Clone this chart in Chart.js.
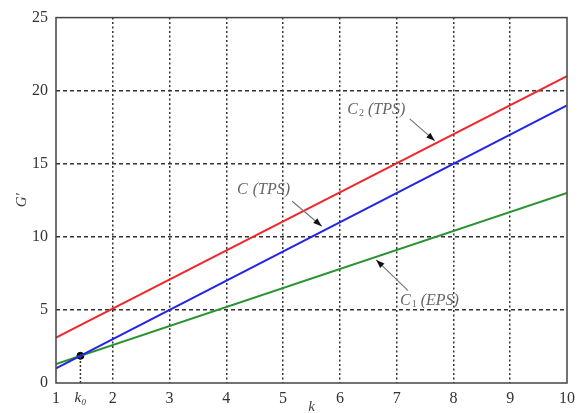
<!DOCTYPE html>
<html>
<head>
<meta charset="utf-8">
<script src="https://cdn.jsdelivr.net/npm/chart.js@4/dist/chart.umd.min.js"></script>
<style>
  html, body { margin: 0; padding: 0; background: #fff; }
  #wrap { width: 582px; height: 413px; }
</style>
</head>
<body>
<div id="wrap"><canvas id="chart" width="582" height="413"></canvas></div>
<script>
// data
const kValues = [1, 10];
const c2Values = [3.1, 21];
const cValues = [1.0, 19];
const c1Values = [1.3, 13];
const k0 = 1.43;
const g0 = 1.86;
const xTicks = [1, k0, 2, 3, 4, 5, 6, 7, 8, 9, 10];
const yTicks = [0, 5, 10, 15, 20, 25];

// curve labels: [text, subscript, rest, textX, textY, arrowFromX, arrowFromY, arrowToX, arrowToY]
const curveLabels = [
  ["C", "2", " (TPS)", 6.13, 18.7, 7.23, 18.07, 7.67, 16.58],
  ["C", "", " (TPS)", 4.19, 13.25, 5.16, 12.43, 5.68, 10.73],
  ["C", "1", " (EPS)", 7.06, 5.64, 7.20, 6.32, 6.64, 8.42]
];

const serif = "'Liberation Serif', 'DejaVu Serif', serif";

const toPts = (xs, ys) => xs.map((x, i) => ({x: x, y: ys[i]}));

// frame, axis titles and curve labels
const extrasPlugin = {
  id: "extras",
  afterDraw: (chart) => {
    const {ctx, chartArea, scales} = chart;
    const xs = scales.x, ys = scales.y;
    ctx.save();
    ctx.strokeStyle = "#444";
    ctx.lineWidth = 1.5;
    ctx.setLineDash([]);
    ctx.strokeRect(chartArea.left, chartArea.top, chartArea.right - chartArea.left, chartArea.bottom - chartArea.top);

    // axis titles
    ctx.fillStyle = "#444";
    ctx.font = "italic 15px " + serif;
    ctx.textAlign = "center";
    ctx.textBaseline = "middle";
    ctx.fillText("k", (chartArea.left + chartArea.right) / 2, 407);
    ctx.save();
    ctx.translate(22, (chartArea.top + chartArea.bottom) / 2);
    ctx.rotate(-Math.PI / 2);
    ctx.fillText("G'", 0, 0);
    ctx.restore();

    // labels with arrows
    curveLabels.forEach((l) => {
      let [c, sub, rest, tx, ty, fx, fy, ax, ay] = l;
      let px = xs.getPixelForValue(tx), py = ys.getPixelForValue(ty);
      ctx.fillStyle = "#666";
      ctx.textAlign = "left";
      ctx.textBaseline = "middle";
      ctx.font = "italic 16px " + serif;
      ctx.fillText(c, px, py);
      px += ctx.measureText(c).width + 1;
      if (sub) {
        ctx.font = "10px " + serif;
        ctx.fillText(sub, px, py + 4);
        px += ctx.measureText(sub).width;
      }
      ctx.font = "italic 16px " + serif;
      ctx.fillText(rest, px, py);

      let x1 = xs.getPixelForValue(fx), y1 = ys.getPixelForValue(fy);
      let x2 = xs.getPixelForValue(ax), y2 = ys.getPixelForValue(ay);
      ctx.strokeStyle = "#777";
      ctx.lineWidth = 1.2;
      ctx.beginPath();
      ctx.moveTo(x1, y1);
      ctx.lineTo(x2, y2);
      ctx.stroke();
      let ang = Math.atan2(y2 - y1, x2 - x1);
      ctx.fillStyle = "#111";
      ctx.beginPath();
      ctx.moveTo(x2, y2);
      ctx.lineTo(x2 - 9 * Math.cos(ang - 0.35), y2 - 9 * Math.sin(ang - 0.35));
      ctx.lineTo(x2 - 9 * Math.cos(ang + 0.35), y2 - 9 * Math.sin(ang + 0.35));
      ctx.closePath();
      ctx.fill();
    });
    ctx.restore();
  }
};

new Chart(document.getElementById("chart"), {
  type: "line",
  data: {
    datasets: [
      {
        label: "k0 guide",
        data: toPts([k0, k0], [0, g0]),
        borderColor: "#333",
        borderWidth: 1.5,
        borderDash: [2, 2],
        pointRadius: 0
      },
      {
        label: "C2 (TPS)",
        data: toPts(kValues, c2Values),
        borderColor: "#f0262a",
        borderWidth: 2,
        pointRadius: 0
      },
      {
        label: "C (TPS)",
        data: toPts(kValues, cValues),
        borderColor: "#2424e6",
        borderWidth: 2,
        pointRadius: 0
      },
      {
        label: "C1 (EPS)",
        data: toPts(kValues, c1Values),
        borderColor: "#2a9330",
        borderWidth: 2,
        pointRadius: 0
      },
      {
        label: "k0",
        data: [{x: k0, y: g0}],
        borderColor: "#000",
        backgroundColor: "#000",
        pointRadius: 3.5,
        showLine: false
      }
    ]
  },
  plugins: [extrasPlugin],
  options: {
    responsive: false,
    animation: false,
    layout: { padding: { top: 15, right: 15, left: 0, bottom: 0 } },
    plugins: {
      legend: { display: false },
      tooltip: { enabled: false }
    },
    scales: {
      x: {
        type: "linear",
        min: 1,
        max: 10,
        afterBuildTicks: (scale) => { scale.ticks = xTicks.map((v) => ({value: v})); },
        afterFit: (scale) => { scale.height = 30; },
        border: { display: false, dash: [2, 2.5] },
        grid: {
          drawTicks: false,
          lineWidth: 1.5,
          color: (ctx) => (ctx.tick && (ctx.tick.value === k0 || ctx.tick.value === 1 || ctx.tick.value === 10)) ? "rgba(0,0,0,0)" : "#333"
        },
        ticks: {
          padding: 6,
          color: "#333",
          font: (ctx) => (ctx.tick && ctx.tick.value === k0) ? {family: serif, size: 15, style: "italic"} : {family: serif, size: 16},
          callback: (v) => v === k0 ? "k\u2080" : v
        }
      },
      y: {
        type: "linear",
        min: 0,
        max: 25,
        afterBuildTicks: (scale) => { scale.ticks = yTicks.map((v) => ({value: v})); },
        afterFit: (scale) => { scale.width = 56; },
        border: { display: false, dash: [4, 3] },
        grid: {
          drawTicks: false,
          lineWidth: 1.5,
          color: (ctx) => (ctx.tick && (ctx.tick.value === 0 || ctx.tick.value === 25)) ? "rgba(0,0,0,0)" : "#333"
        },
        ticks: {
          padding: 8,
          color: "#333",
          font: {family: serif, size: 16}
        }
      }
    }
  }
});
</script>
</body>
</html>
